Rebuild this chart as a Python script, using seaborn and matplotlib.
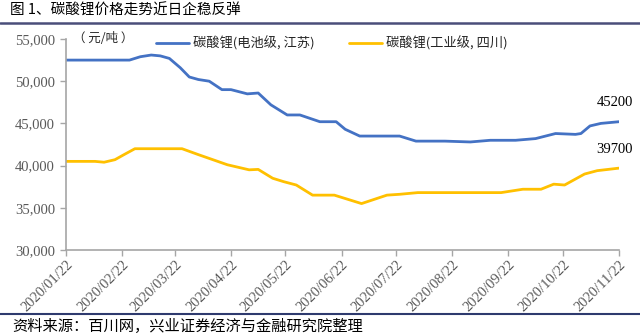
import matplotlib
matplotlib.use("Agg")
import matplotlib.pyplot as plt
import matplotlib.dates as mdates
import seaborn as sns
import pandas as pd
from matplotlib.lines import Line2D

# ---- data ----
battery_dates = ["2020-01-22", "2020-02-26", "2020-03-03", "2020-03-09", "2020-03-14",
                 "2020-03-19", "2020-03-25", "2020-03-30", "2020-04-04", "2020-04-10",
                 "2020-04-17", "2020-04-22", "2020-05-01", "2020-05-07", "2020-05-14",
                 "2020-05-23", "2020-05-30", "2020-06-10", "2020-06-19", "2020-06-24",
                 "2020-07-02", "2020-07-24", "2020-08-02", "2020-08-18", "2020-09-01",
                 "2020-09-12", "2020-09-26", "2020-10-07", "2020-10-18", "2020-10-29",
                 "2020-11-01", "2020-11-06", "2020-11-12", "2020-11-22"]
battery_values = [52500, 52500, 52900, 53100, 53000,
                  52700, 51600, 50500, 50200, 50000,
                  49000, 49000, 48500, 48600, 47200,
                  46000, 46000, 45200, 45200, 44300,
                  43500, 43500, 42900, 42900, 42800,
                  43000, 43000, 43200, 43800, 43700,
                  43800, 44700, 45000, 45200]

industrial_dates = ["2020-01-22", "2020-02-07", "2020-02-12", "2020-02-18", "2020-02-23",
                    "2020-02-29", "2020-03-26", "2020-04-04", "2020-04-20", "2020-05-02",
                    "2020-05-07", "2020-05-15", "2020-05-21", "2020-05-28", "2020-06-06",
                    "2020-06-18", "2020-07-03", "2020-07-17", "2020-07-24", "2020-08-03",
                    "2020-09-18", "2020-09-30", "2020-10-10", "2020-10-17", "2020-10-23",
                    "2020-11-03", "2020-11-10", "2020-11-22"]
industrial_values = [40500, 40500, 40400, 40700, 41300,
                     42000, 42000, 41300, 40100, 39500,
                     39550, 38500, 38100, 37700, 36500,
                     36500, 35500, 36500, 36600, 36800,
                     36800, 37200, 37200, 37800, 37700,
                     39000, 39400, 39700]

series_names = ["碳酸锂(电池级, 江苏)", "碳酸锂(工业级, 四川)"]
series_colors = ["#4472C4", "#FFC000"]
tick_dates = ["2020-01-22", "2020-02-22", "2020-03-22", "2020-04-22", "2020-05-22",
              "2020-06-22", "2020-07-22", "2020-08-22", "2020-09-22", "2020-10-22",
              "2020-11-22"]
y_ticks = [30000, 35000, 40000, 45000, 50000, 55000]
end_labels = ["45200", "39700"]
title_text = "图 1、碳酸锂价格走势近日企稳反弹"
source_text = "资料来源：百川网，兴业证券经济与金融研究院整理"
unit_text = "（ 元/吨 ）"

# ---- style ----
sns.set_theme(style="white")
plt.rcParams["font.family"] = ["Noto Sans CJK SC", "DejaVu Sans"]
cjk = ["Noto Sans CJK SC", "DejaVu Sans"]
serif = ["Liberation Serif", "DejaVu Serif"]
gray = "#595959"

df = pd.concat([
    pd.DataFrame({"date": pd.to_datetime(battery_dates), "value": battery_values,
                  "series": series_names[0]}),
    pd.DataFrame({"date": pd.to_datetime(industrial_dates), "value": industrial_values,
                  "series": series_names[1]}),
])

fig = plt.figure(figsize=(6.4, 3.36), dpi=100)
ax = fig.add_axes([66 / 640, 1 - 250 / 336, (619 - 66) / 640, (250 - 39) / 336])

sns.lineplot(data=df, x="date", y="value", hue="series", palette=series_colors,
             hue_order=series_names, ax=ax, linewidth=2.0, legend=False,
             solid_joinstyle="round", solid_capstyle="round")

ax.set_xlim(pd.Timestamp("2020-01-22"), pd.Timestamp("2020-11-22"))
ax.set_ylim(30000, 55000)
ax.set_xlabel("")
ax.set_ylabel("")

ax.set_xticks(pd.to_datetime(tick_dates))
ax.xaxis.set_major_formatter(mdates.DateFormatter("%Y/%m/%d"))
ax.set_yticks(y_ticks)
ax.set_yticklabels([f"{v:,}" for v in y_ticks])

for lab in ax.get_xticklabels():
    lab.set_rotation(45)
    lab.set_ha("right")
    lab.set_rotation_mode("anchor")
    lab.set_family(serif)
    lab.set_fontsize(10.5)
    lab.set_color(gray)
for lab in ax.get_yticklabels():
    lab.set_family(serif)
    lab.set_fontsize(10.5)
    lab.set_color(gray)

ax.tick_params(axis="x", direction="out", length=4, width=1, color="#A6A6A6", pad=2, bottom=True)
ax.tick_params(axis="y", direction="out", length=4, width=1, color="#A6A6A6", pad=4, left=True)
for side in ["top", "right"]:
    ax.spines[side].set_visible(False)
for side in ["left", "bottom"]:
    ax.spines[side].set_color("#A6A6A6")
    ax.spines[side].set_linewidth(1.2)

# unit label
ax.text(0.012, 1.0, unit_text, transform=ax.transAxes, ha="left", va="center",
        fontsize=9, family=cjk, color="#262626")

# legend
handles = [Line2D([], [], color=c, lw=2.0) for c in series_colors]
leg = ax.legend(handles, series_names, loc="center left", bbox_to_anchor=(0.163, 0.98),
                ncol=2, frameon=False, prop={"family": cjk, "size": 9.5},
                handlelength=2.5, handletextpad=0.3, columnspacing=2.6,
                borderaxespad=0, borderpad=0)
for t in leg.get_texts():
    t.set_color("#262626")

# end labels
last_points = [(pd.Timestamp(battery_dates[-1]), battery_values[-1]),
               (pd.Timestamp(industrial_dates[-1]), industrial_values[-1])]
for (d, v), txt in zip(last_points, end_labels):
    ax.annotate(txt, xy=(d, v), xytext=(-3, 9), textcoords="offset points",
                ha="center", va="bottom", fontsize=10.5, family=serif,
                color="#000000", annotation_clip=False)

# title, rules, source
fig.text(10 / 640, 1 - 11 / 336, title_text, ha="left", va="center",
         fontsize=10.5, family=cjk, color="#000000")
fig.add_artist(Line2D([0, 1], [1 - 22.5 / 336] * 2, transform=fig.transFigure,
                      color="#4A4E7A", lw=1.8))
fig.add_artist(Line2D([0, 1], [1 - 314 / 336] * 2, transform=fig.transFigure,
                      color="#2E3A6E", lw=1.5))
fig.text(12 / 640, 1 - 326 / 336, source_text, ha="left", va="center",
         fontsize=11, family=cjk, color="#000000")

fig.savefig("out.png", dpi=100)
